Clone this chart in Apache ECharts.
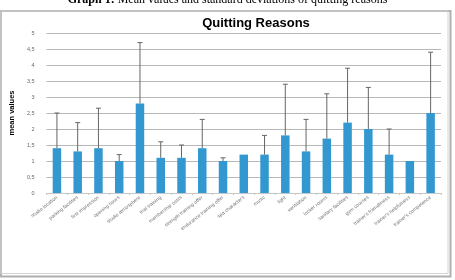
<!DOCTYPE html>
<html>
<head>
<meta charset="utf-8">
<script src="https://cdn.jsdelivr.net/npm/echarts@6/dist/echarts.min.js"></script>
<style>
  html, body { margin: 0; padding: 0; background: #fff; }
  #chart { width: 455px; height: 280px; }
</style>
</head>
<body>
<div id="chart"></div>
<script>
const categories = [
  "studio location", "parking facilities", "first impression", "opening hours",
  "studio atmosphere", "trial training", "membership costs", "strength training offer",
  "endurance training offer", "spa characters", "music", "light", "ventilation",
  "locker rooms", "sanitary facilities", "gym courses", "trainer's friendliness",
  "trainer's helpfulness", "trainer's competence"
];
const meanValues = [1.4, 1.3, 1.4, 1.0, 2.8, 1.1, 1.1, 1.4, 1.0, 1.2, 1.2, 1.8, 1.3, 1.7, 2.2, 2.0, 1.2, 1.0, 2.5];
const stdDevs = [1.1, 0.9, 1.25, 0.2, 1.9, 0.5, 0.4, 0.9, 0.1, 0, 0.6, 1.6, 1.0, 1.4, 1.7, 1.3, 0.8, 0, 1.9];
const yTicks = ["0", "0,5", "1", "1,5", "2", "2,5", "3", "3,5", "4", "4,5", "5"];

const errorData = categories.map((c, i) => [i, meanValues[i], meanValues[i] + stdDevs[i]]);

const chart = echarts.init(document.getElementById("chart"));

const option = {
  animation: false,
  backgroundColor: "#fff",
  grid: { left: 36, right: 14, top: 33, bottom: 87 },
  graphic: [
    {
      type: "rect",
      shape: { x: 1, y: 11, width: 449.5, height: 265.5 },
      style: { fill: "none", stroke: "#b0b0b0", lineWidth: 2 },
      silent: true
    },
    {
      type: "rect",
      shape: { x: 1, y: 11, width: 447, height: 262.5 },
      style: { fill: "none", stroke: "#d4d4d4", lineWidth: 1 },
      silent: true
    },
    {
      type: "text",
      left: "center",
      top: -6,
      style: {
        text: "{b|Graph 1:} Mean values and standard deviations of quitting reasons",
        font: "12px 'Liberation Serif'",
        fill: "#000",
        rich: {
          b: { fontWeight: "bold", fontFamily: "Liberation Serif", fontSize: 12 }
        }
      }
    },
    {
      type: "text",
      x: 256,
      y: 23,
      style: {
        text: "Quitting Reasons",
        font: "bold 13px 'Liberation Sans'",
        fill: "#000",
        align: "center",
        verticalAlign: "middle"
      }
    }
  ],
  xAxis: {
    type: "category",
    data: categories,
    axisLine: { lineStyle: { color: "#c8c8c8" } },
    axisTick: { show: true, length: 2, lineStyle: { color: "#c8c8c8" } },
    axisLabel: {
      interval: 0,
      rotate: 38,
      fontSize: 5,
      color: "#777",
      fontFamily: "Liberation Sans",
      margin: 4
    }
  },
  yAxis: {
    type: "value",
    min: 0,
    max: 5,
    interval: 0.5,
    name: "mean values",
    nameLocation: "middle",
    nameGap: 20,
    nameTextStyle: { fontSize: 7.5, fontWeight: "bold", color: "#000", fontFamily: "Liberation Sans" },
    axisLine: { show: false },
    axisTick: { show: false },
    splitLine: { lineStyle: { color: "#b8b8b8", width: 1 } },
    axisLabel: {
      fontSize: 5.5,
      color: "#666",
      margin: 12,
      fontFamily: "Liberation Sans",
      formatter: (v) => yTicks[Math.round(v * 2)]
    }
  },
  series: [
    {
      type: "bar",
      data: meanValues,
      barWidth: 8.5,
      itemStyle: { color: "#3498d0" }
    },
    {
      type: "custom",
      data: errorData,
      z: 10,
      renderItem: (params, api) => {
        const i = api.value(0);
        const lo = api.coord([i, api.value(1)]);
        const hi = api.coord([i, api.value(2)]);
        if (api.value(2) - api.value(1) <= 0) return null;
        const style = { stroke: "#666", lineWidth: 1 };
        return {
          type: "group",
          children: [
            { type: "line", shape: { x1: lo[0], y1: lo[1], x2: hi[0], y2: hi[1] }, style },
            { type: "line", shape: { x1: hi[0] - 2.5, y1: hi[1], x2: hi[0] + 2.5, y2: hi[1] }, style }
          ]
        };
      }
    }
  ]
};

chart.setOption(option);
</script>
</body>
</html>
